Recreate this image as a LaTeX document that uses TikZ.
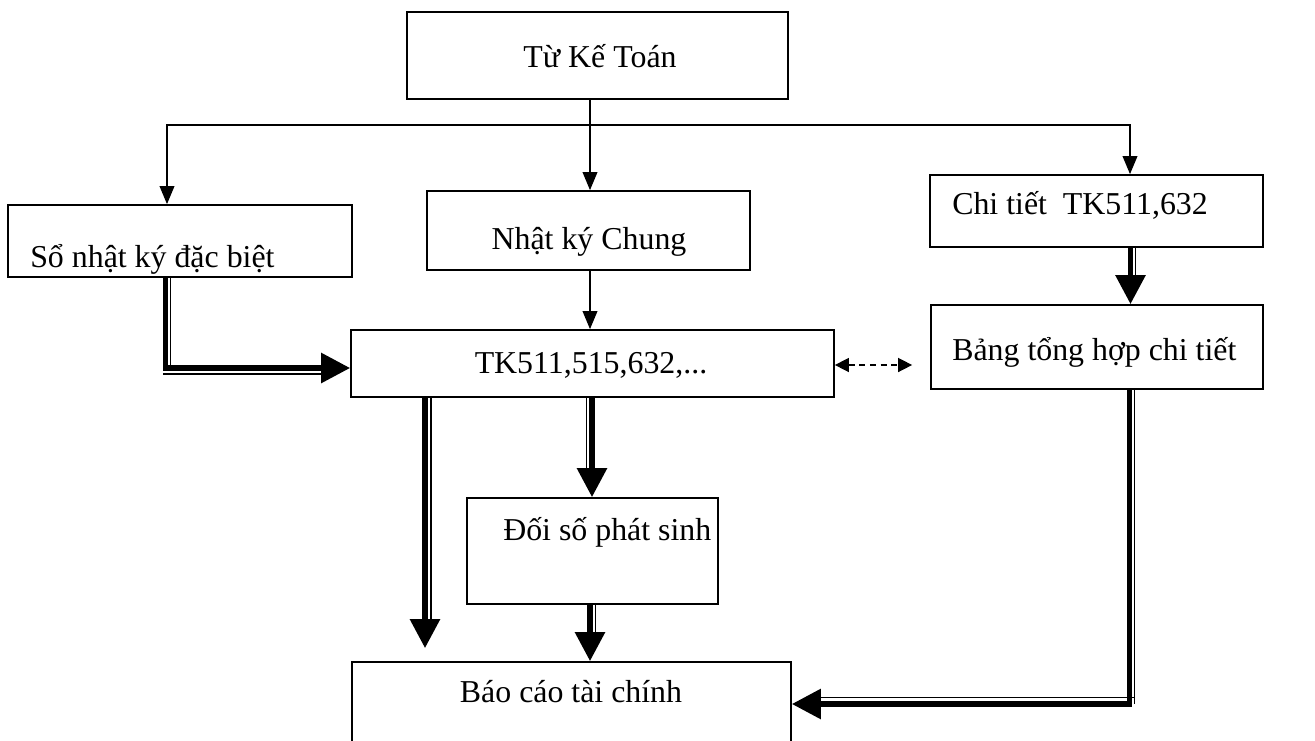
\documentclass[tikz,border=0pt]{standalone}
\usepackage{fontspec}
\setmainfont{Liberation Serif}
\usetikzlibrary{arrows.meta,calc}
\begin{document}
\begin{tikzpicture}[x=0.75pt,y=-0.75pt,
  box/.style 2 args={draw, line width=1.3pt, inner sep=0pt,
    minimum width=#1*0.75pt, minimum height=#2*0.75pt},
  lbl/.style={font=\fontsize{23.9}{28}\selectfont, inner sep=0pt},
  thin/.style={line width=1.1pt},
  thinarr/.style={thin, -{Triangle[length=13.5pt,width=11pt]}},
  heavy/.style={line width=4.3pt},
  heavyarr/.style={heavy, -{Triangle[length=21.75pt,width=21.75pt]}},
  rail/.style={line width=1.1pt},
  linkarr/.style={thin, dash pattern=on 4.5pt off 3.5pt,
    {Triangle[length=10.5pt,width=10.5pt]}-{Triangle[length=10.5pt,width=10.5pt]}},
]
\useasboundingbox (0,0) rectangle (1315,740);
\clip (0,0) rectangle (1315,740);

% boxes
\node[box={381}{87}]  (top)  at (597.5,55.5) {};
\node[box={344}{72}]  (so)   at (180,241)    {};
\node[box={323}{79}]  (nkc)  at (588.5,230.5){};
\node[box={333}{72}]  (ct)   at (1096.5,211) {};
\node[box={483}{67}]  (tk)   at (592.5,363.5){};
\node[box={332}{84}]  (bang) at (1097,347)   {};
\node[box={251}{106}] (doi)  at (592.5,551)  {};
\node[box={439}{98}]  (bc)   at (571.5,711)  {};

% labels
\node[lbl, anchor=base]      (ltop)  at (600,67)  {Từ Kế Toán};
\node[lbl, anchor=base west] (lso)   at (30,267)  {Sổ nhật ký đặc biệt};
\node[lbl, anchor=base]      (lnkc)  at (589,249) {Nhật ký Chung};
\node[lbl, anchor=base west] (lct)   at (952,214) {Chi tiết\ \ TK511,632};
\node[lbl, anchor=base]      (ltk)   at (591,373) {TK511,515,632,...};
\node[lbl, anchor=base west] (lbang) at (952,360) {Bảng tổng hợp chi tiết};
\node[lbl, anchor=base west] (ldoi)  at (503,540) {Đối số phát sinh};
\node[lbl, anchor=base]      (lbc)   at (571,702) {Báo cáo tài chính};

% guide coordinates for the connector lanes
\coordinate (split) at (590,125);
\coordinate (cL) at (167,0);
\coordinate (cR) at (1130,0);

% thin distribution arrows
\draw[thin] (top.south -| split) -- (split);
\draw[thinarr] (split) -| (so.north -| cL);
\draw[thinarr] (split) -| (ct.north -| cR);
\draw[thinarr] (split) -- (nkc.north -| split);
\draw[thinarr] (nkc.south -| split) -- (tk.north -| split);

% so -> tk (heavy with rail)
\coordinate (kso) at (165.5,368);
\draw[heavyarr, line join=miter] (so.south -| kso) |- (tk.west |- kso);
\draw[rail] (so.south -| 170.5,0) -- (170.5,368);
\draw[rail] (163,374) -- (322,374);

% tk -> bc (left lane)
\coordinate (kl) at (425,0);
\draw[heavyarr, shorten >=9.75pt] (tk.south -| kl) -- (bc.north -| kl);
\draw[rail] (tk.south -| 431,0) -- (431,621);

% tk -> doi
\coordinate (km) at (592,0);
\draw[heavyarr] (tk.south -| km) -- (doi.north -| km);
\draw[rail] (tk.south -| 586.5,0) -- (586.5,470);

% doi -> bc
\coordinate (kb) at (590,0);
\draw[heavyarr] (doi.south -| kb) -- (bc.north -| kb);
\draw[rail] (doi.south -| 595.5,0) -- (595.5,633);

% ct -> bang
\coordinate (kr) at (1130.5,0);
\draw[heavyarr] (ct.south -| kr) -- (bang.north -| kr);
\draw[rail] (ct.south -| 1135.5,0) -- (1135.5,275);

% bang -> bc
\coordinate (kbc) at (1129.5,704);
\draw[heavyarr, line join=miter] (bang.south -| kbc) |- (bc.east |- kbc);
\draw[rail] (bang.south -| 1134.5,0) -- (1134.5,704);
\draw[rail] (1134.5,697.5) -- (820,697.5);

% tk <-> bang
\coordinate (kd) at (0,365);
\draw[linkarr, shorten >=13.5pt] (tk.east |- kd) -- (bang.west |- kd);
\end{tikzpicture}
\end{document}
